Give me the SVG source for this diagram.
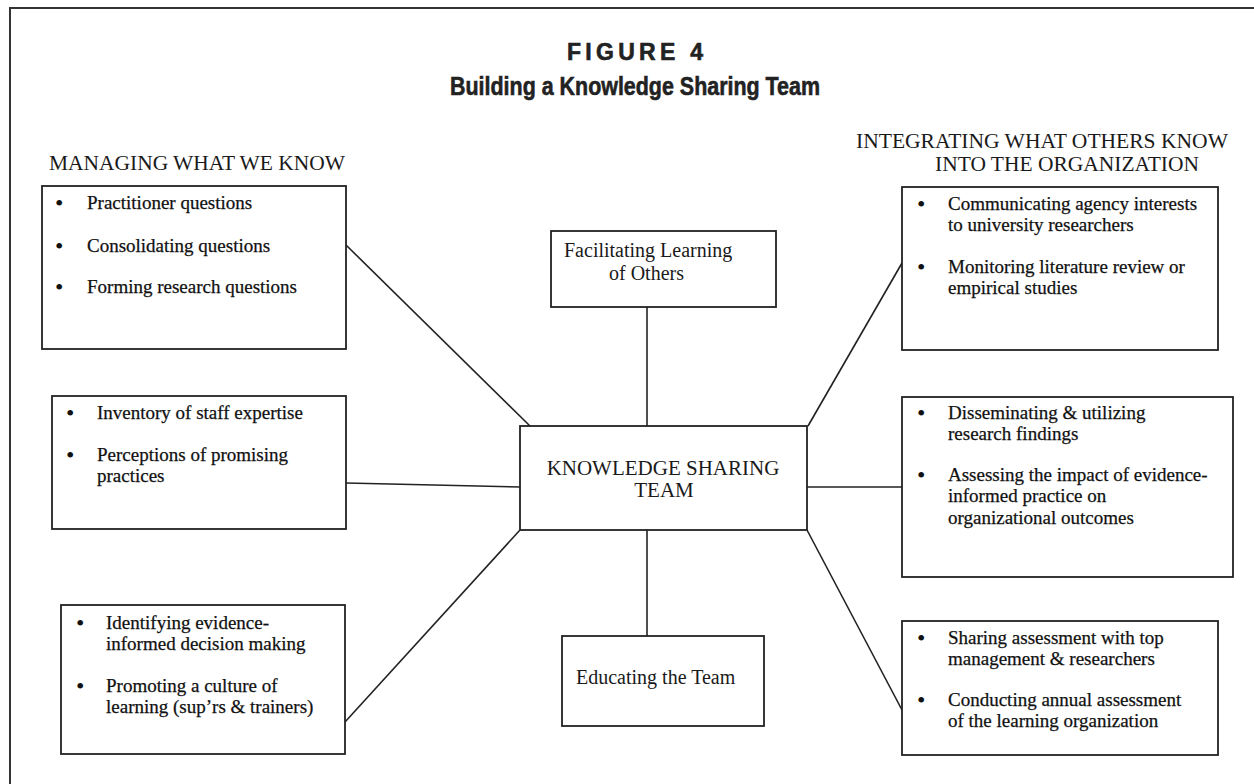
<svg xmlns="http://www.w3.org/2000/svg" width="1254" height="784" viewBox="0 0 1254 784">
<style>
.frame{stroke:#333;stroke-width:2;fill:none}
.box{fill:#fff;stroke:#222;stroke-width:1.8}
.conn line{stroke:#222;stroke-width:1.6}
.t{font-family:"Liberation Serif","Times New Roman",serif;font-size:19px;fill:#111;stroke:#111;stroke-width:0.25}
.b{font-family:"Liberation Serif","Times New Roman",serif;font-size:24px;fill:#111}
.h{font-family:"Liberation Serif","Times New Roman",serif;font-size:21px;fill:#1a1a1a}
.title{font-family:"Liberation Sans",Arial,sans-serif;font-weight:bold;font-size:25px;fill:#222;stroke:#222;stroke-width:0.6}
</style>
<rect width="1254" height="784" fill="#fff"/>
<path class="frame" d="M10,784 V8 H1254"/>
<g id="title">
<text class="title" x="567" y="60" textLength="136" lengthAdjust="spacing" style="font-size:23px">FIGURE 4</text>
<text class="title" x="450" y="95" textLength="370" lengthAdjust="spacingAndGlyphs" style="font-size:26px">Building a Knowledge Sharing Team</text>
</g>
<g id="headers">
<text class="h" x="49" y="170" textLength="296" lengthAdjust="spacingAndGlyphs">MANAGING WHAT WE KNOW</text>
<text class="h" x="856" y="148" textLength="372" lengthAdjust="spacingAndGlyphs">INTEGRATING WHAT OTHERS KNOW</text>
<text class="h" x="935" y="171" textLength="264" lengthAdjust="spacingAndGlyphs">INTO THE ORGANIZATION</text>
</g>
<g class="conn" id="connectors">
<line x1="346" y1="245" x2="530" y2="426"/>
<line x1="346" y1="483" x2="520" y2="487"/>
<line x1="345" y1="722" x2="520" y2="530"/>
<line x1="647" y1="307" x2="647" y2="426"/>
<line x1="647" y1="530" x2="647" y2="636"/>
<line x1="902" y1="263" x2="808" y2="426"/>
<line x1="807" y1="487" x2="902" y2="487"/>
<line x1="807" y1="530" x2="902" y2="710"/>
</g>
<g id="center">
<rect class="box" x="520" y="426" width="287" height="104"/>
<text class="h" x="663" y="475" text-anchor="middle">KNOWLEDGE SHARING</text>
<text class="h" x="664" y="497" text-anchor="middle">TEAM</text>
</g>
<g id="facilitating">
<rect class="box" x="551" y="231" width="225" height="76"/>
<text class="h" x="564" y="257" style="font-size:20px">Facilitating Learning</text>
<text class="h" x="609" y="280" style="font-size:20px">of Others</text>
</g>
<g id="educating">
<rect class="box" x="562" y="636" width="202" height="90"/>
<text class="h" x="576" y="684" style="font-size:20px">Educating the Team</text>
</g>
<g id="box-questions">
<rect class="box" x="42" y="186" width="304" height="163"/>
<text class="b" x="55" y="211">•</text><text class="t" x="87" y="209">Practitioner questions</text>
<text class="b" x="55" y="254">•</text><text class="t" x="87" y="252">Consolidating questions</text>
<text class="b" x="55" y="295">•</text><text class="t" x="87" y="293">Forming research questions</text>
</g>
<g id="box-expertise">
<rect class="box" x="52" y="396" width="294" height="133"/>
<text class="b" x="66" y="421">•</text><text class="t" x="97" y="419">Inventory of staff expertise</text>
<text class="b" x="66" y="463">•</text><text class="t" x="97" y="461">Perceptions of promising</text>
<text class="t" x="97" y="482">practices</text>
</g>
<g id="box-culture">
<rect class="box" x="61" y="605" width="284" height="149"/>
<text class="b" x="76" y="631">•</text><text class="t" x="106" y="629">Identifying evidence-</text>
<text class="t" x="106" y="650">informed decision making</text>
<text class="b" x="76" y="694">•</text><text class="t" x="106" y="692">Promoting a culture of</text>
<text class="t" x="106" y="713">learning (sup’rs &amp; trainers)</text>
</g>
<g id="box-communicating">
<rect class="box" x="902" y="187" width="316" height="163"/>
<text class="b" x="917" y="212">•</text><text class="t" x="948" y="210">Communicating agency interests</text>
<text class="t" x="948" y="231">to university researchers</text>
<text class="b" x="917" y="275">•</text><text class="t" x="948" y="273">Monitoring literature review or</text>
<text class="t" x="948" y="294">empirical studies</text>
</g>
<g id="box-disseminating">
<rect class="box" x="902" y="397" width="331" height="180"/>
<text class="b" x="917" y="421">•</text><text class="t" x="948" y="419">Disseminating &amp; utilizing</text>
<text class="t" x="948" y="440">research findings</text>
<text class="b" x="917" y="483">•</text><text class="t" x="948" y="481">Assessing the impact of evidence-</text>
<text class="t" x="948" y="502">informed practice on</text>
<text class="t" x="948" y="524">organizational outcomes</text>
</g>
<g id="box-sharing">
<rect class="box" x="902" y="621" width="316" height="134"/>
<text class="b" x="917" y="646">•</text><text class="t" x="948" y="644">Sharing assessment with top</text>
<text class="t" x="948" y="665">management &amp; researchers</text>
<text class="b" x="917" y="708">•</text><text class="t" x="948" y="706">Conducting annual assessment</text>
<text class="t" x="948" y="727">of the learning organization</text>
</g>
</svg>
